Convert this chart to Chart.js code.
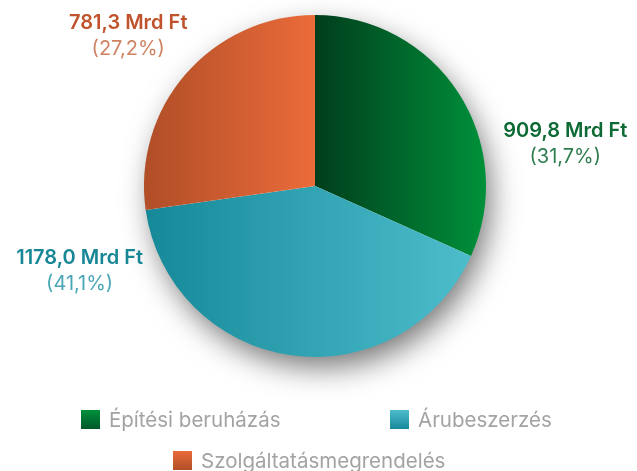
<!DOCTYPE html>
<html><head><meta charset="utf-8">
<script src="https://cdn.jsdelivr.net/npm/chart.js@4/dist/chart.umd.min.js"></script>
<style>
html,body{margin:0;padding:0;background:#fff;}
#wrap{position:relative;width:637px;height:471px;}
canvas{position:absolute;left:0;top:0;}
.lg{position:absolute;font-family:Inter,"Noto Sans",sans-serif;font-size:20.5px;color:#a3a3a3;display:flex;align-items:center;white-space:nowrap;height:22px;}
.lg span.b{display:inline-block;width:19px;height:19px;margin-right:9px;}
</style></head><body>
<div id="wrap"><canvas id="c" width="637" height="471"></canvas>
<div class="lg" id="l0" style="left:81px;top:408px;"><span class="b" style="background:linear-gradient(#00913a,#00572a)"></span><span class="t"></span></div>
<div class="lg" id="l1" style="left:390px;top:408px;"><span class="b" style="background:linear-gradient(#4cbccb,#178a99)"></span><span class="t"></span></div>
<div class="lg" id="l2" style="left:173px;top:449px;"><span class="b" style="background:linear-gradient(#ea6a3a,#b14f27)"></span><span class="t"></span></div>
</div>
<script>
const categories = ["Építési beruházás", "Árubeszerzés", "Szolgáltatásmegrendelés"];
const values = [909.8, 1178.0, 781.3];
const valueLabels = ["909,8 Mrd Ft", "1178,0 Mrd Ft", "781,3 Mrd Ft"];
const percentLabels = ["(31,7%)", "(41,1%)", "(27,2%)"];

const gradStops = [["#003d1c", "#00913a"], ["#168998", "#4dbdcc"], ["#b04e27", "#eb6b3a"]];
const labelColors = [["#0d6a34", "#2f7e50"], ["#178796", "#4aa6b6"], ["#c0532b", "#cf8262"]];
const labelAngles = [-9.8, 160.3, 218.9];
const labelDists = [254, 250, 240];

categories.forEach((c,i)=>{document.querySelector('#l'+i+' .t').textContent=c;});

const shadowPlugin = {
  id:'shadow',
  beforeDatasetsDraw(chart){
    const meta = chart.getDatasetMeta(0);
    const el = meta.data[0]; if(!el) return;
    const ctx = chart.ctx;
    ctx.save();
    ctx.shadowColor='rgba(0,0,0,0.55)';
    ctx.shadowBlur=30;
    ctx.shadowOffsetX=6;
    ctx.shadowOffsetY=12;
    ctx.fillStyle='#fff';
    ctx.beginPath();
    ctx.arc(el.x, el.y, el.outerRadius-2, 0, Math.PI*2);
    ctx.fill();
    ctx.restore();
    meta.data.forEach((a,i)=>{
      const s=a.startAngle, e=a.endAngle, r=a.outerRadius;
      let xs=[a.x+Math.cos(s)*r, a.x+Math.cos(e)*r, a.x];
      for(let k=-4;k<=4;k++){const ang=k*Math.PI; if(ang>s&&ang<e) xs.push(a.x+Math.cos(ang)*r);}
      const x0=Math.min(...xs), x1=Math.max(...xs);
      const g=ctx.createLinearGradient(x0,0,x1,0);
      g.addColorStop(0,gradStops[i][0]); g.addColorStop(1,gradStops[i][1]);
      a.options.backgroundColor=g;
    });
  },
  afterDatasetsDraw(chart){
    const meta = chart.getDatasetMeta(0);
    const ctx = chart.ctx;
    meta.data.forEach((a,i)=>{
      const ang=labelAngles[i]*Math.PI/180;
      const x=a.x+Math.cos(ang)*labelDists[i], y=a.y+Math.sin(ang)*labelDists[i];
      ctx.save();
      ctx.textAlign='center'; ctx.textBaseline='middle';
      ctx.font='600 20px Inter, "Noto Sans", sans-serif';
      ctx.fillStyle=labelColors[i][0];
      ctx.fillText(valueLabels[i], x, y-12);
      ctx.font='400 20px Inter, "Noto Sans", sans-serif';
      ctx.fillStyle=labelColors[i][1];
      ctx.fillText(percentLabels[i], x, y+14);
      ctx.restore();
    });
  }
};

new Chart(document.getElementById('c'), {
  type:'pie',
  data:{labels:categories, datasets:[{data:values, backgroundColor:gradStops.map(g=>g[1]), borderWidth:0}]},
  options:{
    responsive:false, animation:false,
    layout:{padding:{left:144,right:151,top:15,bottom:114}},
    plugins:{legend:{display:false}, tooltip:{enabled:false}}
  },
  plugins:[shadowPlugin]
});
</script>
</body></html>
